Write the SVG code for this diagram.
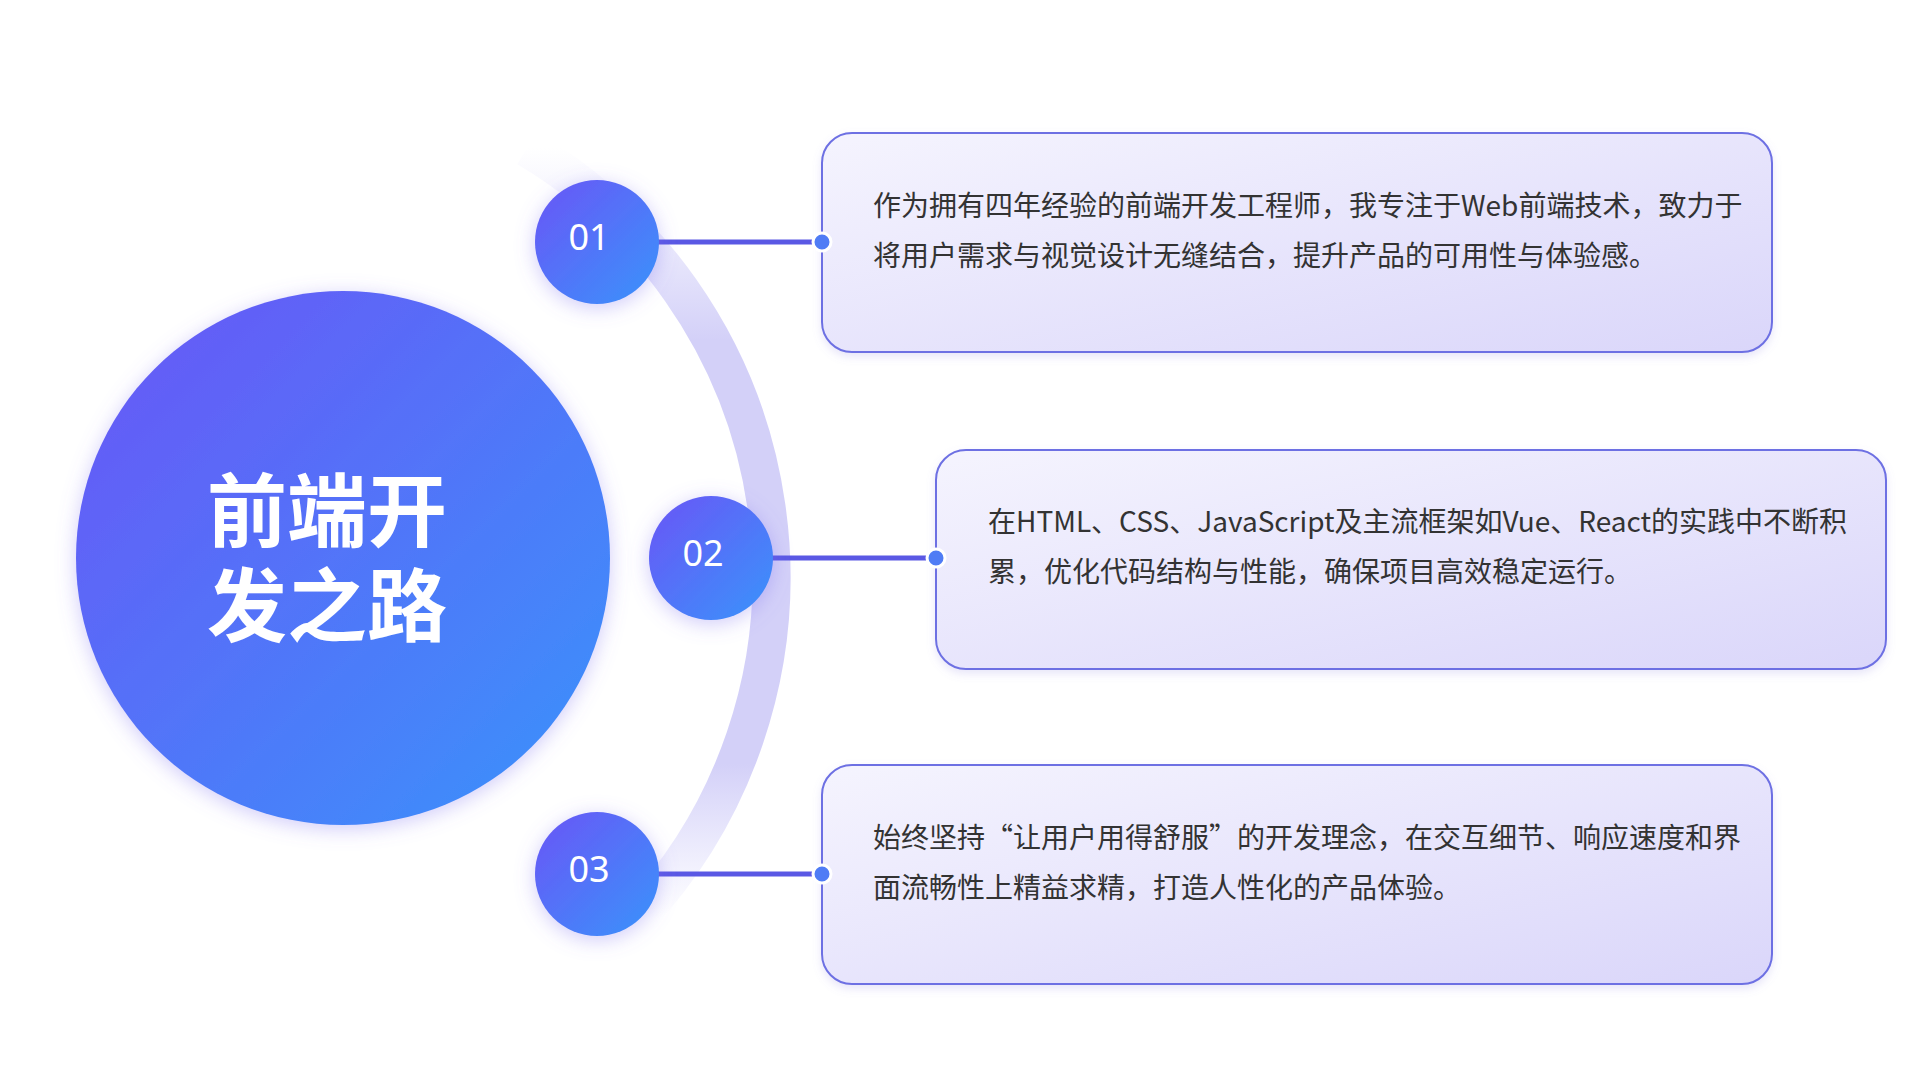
<svg xmlns="http://www.w3.org/2000/svg" width="1920" height="1080" viewBox="0 0 1920 1080">
<defs>
<linearGradient id="cg" x1="0" y1="0" x2="1" y2="1"><stop offset="0" stop-color="#6a55f6"/><stop offset="1" stop-color="#3994fb"/></linearGradient>
<linearGradient id="bg" x1="0" y1="0" x2="1" y2="1"><stop offset="0" stop-color="#f5f4fe"/><stop offset="1" stop-color="#dad6fa"/></linearGradient>
<linearGradient id="ag" x1="0" y1="0" x2="0" y2="1"><stop offset="0" stop-color="#d8d6fa" stop-opacity="0"/><stop offset="0.25" stop-color="#d3d0f8"/><stop offset="0.8" stop-color="#d3d0f8"/><stop offset="1" stop-color="#d8d6fa" stop-opacity="0"/></linearGradient>
<filter id="sh" x="-20%" y="-20%" width="140%" height="140%"><feDropShadow dx="0" dy="4" stdDeviation="10" flood-color="#7a6cf0" flood-opacity="0.35"/></filter>
<filter id="bs" x="-5%" y="-10%" width="110%" height="120%"><feDropShadow dx="0" dy="4" stdDeviation="4" flood-color="#8a80e0" flood-opacity="0.2"/></filter>
</defs>
<style>
.box{fill:url(#bg);stroke:#6d70e3;stroke-width:2}
.t{font-family:"Noto Sans CJK SC","Noto Sans",sans-serif;font-size:28px;fill:#333}
.n{font-family:"Noto Sans","Noto Sans CJK SC",sans-serif;font-size:36px;fill:#fff;text-anchor:middle}
.ln{stroke:#5a58e4;stroke-width:5}
.dot{fill:#4f7cf5;stroke:#fff;stroke-width:3}
</style>
<rect width="1920" height="1080" fill="#fff"/>
<path d="M 527 148 A 499 499 0 0 1 637 918" fill="none" stroke="url(#ag)" stroke-width="38"/>
<g id="center"><circle cx="343" cy="558" r="267" fill="url(#cg)" filter="url(#sh)"/>
<text x="327" y="540" font-family="Noto Sans CJK SC,sans-serif" font-size="80" font-weight="bold" fill="#fff" text-anchor="middle">前端开</text>
<text x="327" y="635" font-family="Noto Sans CJK SC,sans-serif" font-size="80" font-weight="bold" fill="#fff" text-anchor="middle">发之路</text></g>
<g id="connectors">
<line class="ln" x1="647" y1="242" x2="822" y2="242"/>
<line class="ln" x1="761" y1="558" x2="936" y2="558"/>
<line class="ln" x1="647" y1="874" x2="822" y2="874"/>
</g>
<g id="n1"><circle cx="597" cy="242" r="62" fill="url(#cg)" filter="url(#sh)"/><text class="n" x="589" y="250">01</text></g>
<g id="n2"><circle cx="711" cy="558" r="62" fill="url(#cg)" filter="url(#sh)"/><text class="n" x="703" y="566">02</text></g>
<g id="n3"><circle cx="597" cy="874" r="62" fill="url(#cg)" filter="url(#sh)"/><text class="n" x="589" y="882">03</text></g>
<g id="b1"><rect class="box" x="822" y="133" width="950" height="219" rx="30" filter="url(#bs)"/>
<text class="t" x="873" y="216">作为拥有四年经验的前端开发工程师，我专注于Web前端技术，致力于</text>
<text class="t" x="873" y="266">将用户需求与视觉设计无缝结合，提升产品的可用性与体验感。</text></g>
<g id="b2"><rect class="box" x="936" y="450" width="950" height="219" rx="30" filter="url(#bs)"/>
<text class="t" x="988" y="532">在HTML、CSS、JavaScript及主流框架如Vue、React的实践中不断积</text>
<text class="t" x="988" y="582">累，优化代码结构与性能，确保项目高效稳定运行。</text></g>
<g id="b3"><rect class="box" x="822" y="765" width="950" height="219" rx="30" filter="url(#bs)"/>
<text class="t" x="873" y="848">始终坚持“让用户用得舒服”的开发理念，在交互细节、响应速度和界</text>
<text class="t" x="873" y="898">面流畅性上精益求精，打造人性化的产品体验。</text></g>
<circle class="dot" cx="822" cy="242" r="9"/><circle class="dot" cx="936" cy="558" r="9"/><circle class="dot" cx="822" cy="874" r="9"/>
</svg>
